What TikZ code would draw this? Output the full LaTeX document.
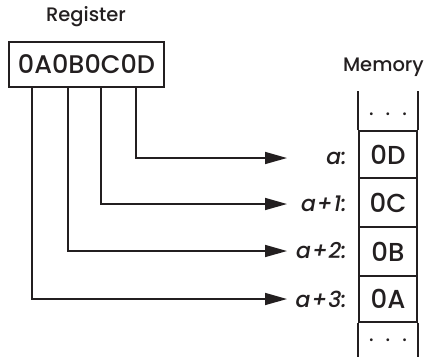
\documentclass[tikz,border=0pt]{standalone}
\usepackage{fontspec}
\setmainfont{Poppins}[UprightFont={* Medium}, ItalicFont={* Medium Italic}]
\usetikzlibrary{arrows.meta,calc}
\definecolor{ink}{HTML}{231F20}
\tikzset{
  every node/.style={text=ink, inner sep=0pt},
  box/.style={draw=ink, line width=1.6pt, rectangle, font=\fontsize{25.5}{28}\selectfont},
  cell/.style={draw=ink, line width=1.6pt, rectangle, minimum width=58pt, font=\fontsize{26}{28}\selectfont},
  lbl/.style={font=\fontsize{19.5}{22}\selectfont},
  addr/.style={font=\fontsize{22}{24}\selectfont\itshape, anchor=east},
  dots/.style={font=\fontsize{19}{22}\selectfont},
  arr/.style={draw=ink, line width=1.6pt, -{Triangle[length=22pt,width=12pt]}},
  edge/.style={draw=ink, line width=1.8pt}
}
\begin{document}
\begin{tikzpicture}[x=1pt,y=-1pt]
\useasboundingbox (0,0) rectangle (425,357);
\node[lbl] (reglbl) at (86,17) {Register};
\node[box, minimum width=155pt, minimum height=45pt] (reg) at (86.5,64.5) {0A0B0C0D};
\node[lbl, anchor=east] (memlbl) at (424,67) {Memory};
% memory cells
\node[cell, minimum height=47pt] (m0) at (388,154.5) {0D};
\node[cell, minimum height=49pt] (m1) at (388,202.5) {0C};
\node[cell, minimum height=49pt] (m2) at (388,251.5) {0B};
\node[cell, minimum height=46pt] (m3) at (388,299) {0A};
\node[dots] (dtop) at (388,114) {.\hspace{12pt}.\hspace{12pt}.};
\node[dots] (dbot) at (388,340) {.\hspace{12pt}.\hspace{12pt}.};
\draw[edge] (m0.north west) -- ++(0,-39);
\draw[edge] (m0.north east) -- ++(0,-39);
\draw[edge] (m3.south west) -- (m3.south west |- 0,357);
\draw[edge] (m3.south east) -- (m3.south east |- 0,357);
% address labels
\node[addr] (a0) at (347,158) {a:};
\node[addr] (a1) at (347,204) {a\hspace{1pt}+\hspace{1pt}1:};
\node[addr] (a2) at (347,251) {a\hspace{1pt}+\hspace{1pt}2:};
\node[addr] (a3) at (347,299) {a\hspace{1pt}+\hspace{1pt}3:};
\coordinate (e0) at (287,158);
\coordinate (e1) at (287,204);
\coordinate (e2) at (287,251);
\coordinate (e3) at (287,299);
\draw[arr] (reg.south west -| 136,0) |- (e0);
\draw[arr] (reg.south west -| 101,0) |- (e1);
\draw[arr] (reg.south west -| 68,0) |- (e2);
\draw[arr] (reg.south west -| 32,0) |- (e3);
\end{tikzpicture}
\end{document}
